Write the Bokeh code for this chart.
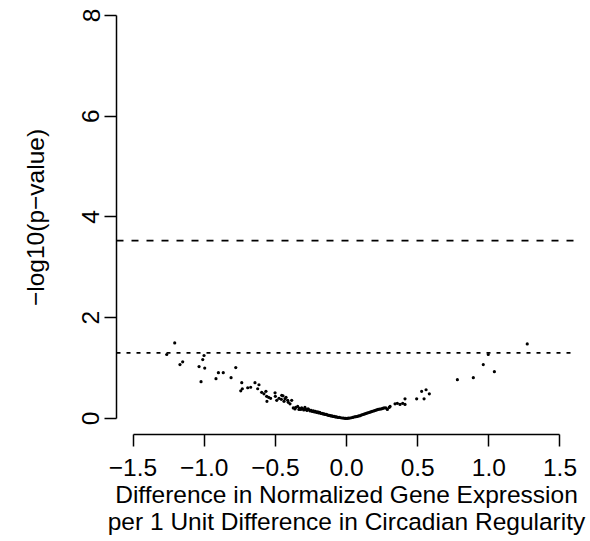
from bokeh.plotting import figure
from bokeh.embed import file_html
from bokeh.resources import INLINE
from bokeh.models import Span, FixedTicker, Range1d

# Effect estimates (x) and -log10(p) (y)
effect = [
    -1.263, -1.207, -1.170, -1.151, -1.036, -1.010, -1.001, -0.996, -1.022,
    -0.900, -0.866, -0.917, -0.811, -0.778, -0.736, -0.743, -0.732, -0.694,
    -0.673, -0.643, -0.615, -0.624, -0.596, -0.580, -0.566, -0.561, -0.547,
    -0.559, -0.533, -0.502, -0.500, -0.490, -0.474, -0.458, -0.446, -0.439,
    -0.425, -0.413, -0.397, -0.385, -0.374, -0.357, -0.343, -0.334, -0.455,
    -0.432, -0.409, -0.362,
    -0.330, -0.322, -0.315, -0.308, -0.300, -0.292, -0.285, -0.278, -0.270,
    -0.262, -0.255, -0.248, -0.240, -0.232, -0.225, -0.218, -0.210, -0.202,
    -0.195, -0.188, -0.180, -0.172, -0.165, -0.158, -0.150, -0.142, -0.135,
    -0.126, -0.118, -0.110, -0.102, -0.094, -0.086, -0.078, -0.070, -0.060,
    -0.050, -0.040, -0.030, -0.020, -0.010, -0.004,
    0.006, 0.014, 0.024, 0.034, 0.044, 0.055, 0.066, 0.076, 0.086, 0.096,
    0.106, 0.118, 0.128, 0.138, 0.148, 0.160, 0.170, 0.180, 0.192, 0.202,
    0.212, 0.222, 0.232, 0.244, 0.254, 0.264, 0.276, 0.287, 0.300, 0.306,
    0.341, 0.357, 0.376, 0.395, 0.411, 0.411, 0.493, 0.528, 0.545, 0.559,
    0.582,
    0.779, 0.891, 0.961, 0.996, 1.039, 1.270,
]
neglogp = [
    1.27, 1.50, 1.07, 1.125, 1.03, 1.17, 1.25, 1.00, 0.73,
    0.91, 0.91, 0.79, 0.81, 1.01, 0.71, 0.55, 0.59, 0.61,
    0.62, 0.71, 0.67, 0.59, 0.52, 0.49, 0.54, 0.44, 0.42,
    0.34, 0.40, 0.51, 0.44, 0.36, 0.40, 0.38, 0.45, 0.34,
    0.42, 0.36, 0.29, 0.36, 0.21, 0.22, 0.24, 0.18, 0.46,
    0.39, 0.32, 0.19,
    0.20, 0.18, 0.21, 0.19, 0.17, 0.22, 0.18, 0.16, 0.19,
    0.17, 0.15, 0.16, 0.14, 0.15, 0.13, 0.14, 0.12, 0.13,
    0.11, 0.12, 0.10, 0.10, 0.09, 0.09, 0.08, 0.08, 0.07,
    0.06, 0.06, 0.05, 0.05, 0.04, 0.04, 0.03, 0.03, 0.02,
    0.02, 0.015, 0.01, 0.008, 0.004, 0.002,
    0.003, 0.006, 0.01, 0.015, 0.02, 0.03, 0.035, 0.04, 0.05, 0.055,
    0.07, 0.08, 0.09, 0.10, 0.11, 0.12, 0.13, 0.14, 0.15, 0.16,
    0.17, 0.18, 0.185, 0.19, 0.20, 0.21, 0.21, 0.18, 0.22, 0.24,
    0.29, 0.30, 0.28, 0.30, 0.39, 0.28, 0.39, 0.54, 0.39, 0.57,
    0.49,
    0.77, 0.81, 1.07, 1.27, 0.93, 1.48,
]

x_ticks = [-1.5, -1.0, -0.5, 0.0, 0.5, 1.0, 1.5]
y_ticks = [0, 2, 4, 6, 8]
bonferroni_line = 3.53
nominal_line = 1.301

FONT = "Liberation Sans"
FS = "24.5px"

p = figure(width=590, height=541, output_backend="svg", toolbar_location=None,
           x_range=Range1d(-1.616, 1.616), y_range=Range1d(-0.318, 8.298),
           min_border_left=116, min_border_right=14, min_border_top=0,
           min_border_bottom=107)
p.outline_line_color = None
p.grid.visible = False
p.background_fill_color = "white"
p.border_fill_color = "white"

p.scatter(effect, neglogp, size=3.2, color="black", line_color=None)

p.add_layout(Span(location=bonferroni_line, dimension="width", line_color="black",
                  line_width=1.8, line_dash="7 8"))
p.add_layout(Span(location=nominal_line, dimension="width", line_color="black",
                  line_width=1.8, line_dash="4 6"))

for ax in (p.xaxis[0], p.yaxis[0]):
    ax.axis_line_width = 1.5
    ax.major_tick_line_width = 1.5
    ax.major_tick_out = 12
    ax.major_tick_in = 0
    ax.minor_tick_line_color = None
    ax.major_label_text_font = FONT
    ax.major_label_text_font_size = FS
    ax.major_label_text_color = "black"
    ax.axis_label_text_font = FONT
    ax.axis_label_text_font_size = FS
    ax.axis_label_text_font_style = "normal"
    ax.axis_label_text_color = "black"
    ax.axis_line_color = "black"
    ax.major_tick_line_color = "black"

p.xaxis[0].ticker = FixedTicker(ticks=x_ticks)
p.xaxis[0].bounds = (-1.5, 1.5)
p.xaxis[0].major_label_overrides = {t: ("%.1f" % t).replace("-", "\u2212") for t in x_ticks}
p.xaxis[0].major_label_standoff = 12
p.xaxis[0].axis_label = ("Difference in Normalized Gene Expression\n"
                         "per 1 Unit Difference in Circadian Regularity")
p.xaxis[0].axis_label_standoff = 2
p.xaxis[0].axis_label_text_line_height = 1.0

p.yaxis[0].ticker = FixedTicker(ticks=y_ticks)
p.yaxis[0].bounds = (0, 8)
p.yaxis[0].major_label_orientation = "vertical"
p.yaxis[0].major_label_standoff = 5
p.yaxis[0].axis_label = "\u2212log10(p\u2212value)"
p.yaxis[0].axis_label_standoff = 31

open("out.html", "w").write(file_html(p, INLINE))
